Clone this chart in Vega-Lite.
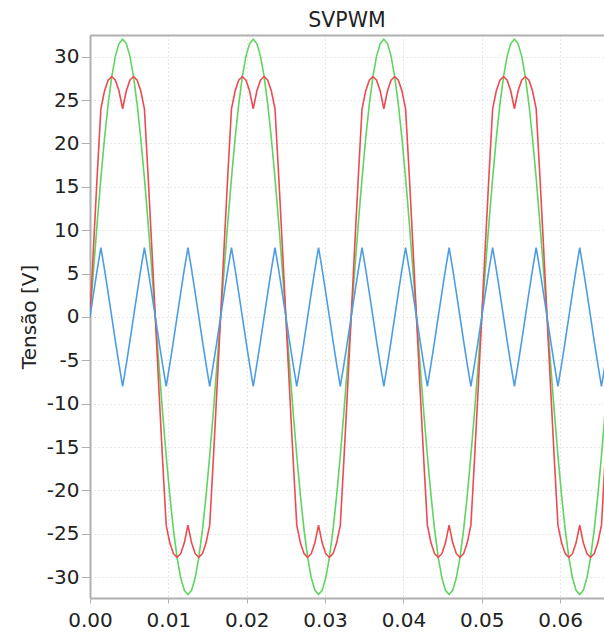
{
  "$schema": "https://vega.github.io/schema/vega-lite/v6.json",
  "width": 514,
  "height": 563,
  "autosize": {"type": "none"},
  "padding": {"left": 90, "top": 35, "right": 0, "bottom": 35},
  "background": "white",
  "title": {"text": "SVPWM", "fontSize": 20.5, "font": "DejaVu Sans", "fontWeight": "normal", "color": "#222222", "anchor": "middle", "offset": 4},
  "config": {"view": {"stroke": null}, "font": "DejaVu Sans"},
  "data": {"values": [
    {"t":0,"g":0,"r":0,"b":0},
    {"t":0.000463,"g":5.557,"r":8.335,"b":2.778},
    {"t":0.000926,"g":10.945,"r":16.417,"b":5.472},
    {"t":0.001389,"g":16,"r":24,"b":8},
    {"t":0.001852,"g":20.569,"r":26.041,"b":5.472},
    {"t":0.002315,"g":24.513,"r":27.291,"b":2.778},
    {"t":0.002778,"g":27.713,"r":27.713,"b":0},
    {"t":0.003241,"g":30.07,"r":27.292,"b":-2.778},
    {"t":0.003704,"g":31.514,"r":26.042,"b":-5.472},
    {"t":0.004167,"g":32,"r":24,"b":-8},
    {"t":0.00463,"g":31.514,"r":26.042,"b":-5.472},
    {"t":0.005093,"g":30.07,"r":27.292,"b":-2.778},
    {"t":0.005556,"g":27.713,"r":27.713,"b":0},
    {"t":0.006019,"g":24.513,"r":27.291,"b":2.778},
    {"t":0.006481,"g":20.569,"r":26.041,"b":5.472},
    {"t":0.006944,"g":16,"r":24,"b":8},
    {"t":0.007407,"g":10.945,"r":16.417,"b":5.472},
    {"t":0.00787,"g":5.557,"r":8.335,"b":2.778},
    {"t":0.008333,"g":0,"r":0,"b":0},
    {"t":0.008796,"g":-5.557,"r":-8.335,"b":-2.778},
    {"t":0.009259,"g":-10.945,"r":-16.417,"b":-5.472},
    {"t":0.009722,"g":-16,"r":-24,"b":-8},
    {"t":0.010185,"g":-20.569,"r":-26.041,"b":-5.472},
    {"t":0.010648,"g":-24.513,"r":-27.291,"b":-2.778},
    {"t":0.011111,"g":-27.713,"r":-27.713,"b":0},
    {"t":0.011574,"g":-30.07,"r":-27.292,"b":2.778},
    {"t":0.012037,"g":-31.514,"r":-26.042,"b":5.472},
    {"t":0.0125,"g":-32,"r":-24,"b":8},
    {"t":0.012963,"g":-31.514,"r":-26.042,"b":5.472},
    {"t":0.013426,"g":-30.07,"r":-27.292,"b":2.778},
    {"t":0.013889,"g":-27.713,"r":-27.713,"b":0},
    {"t":0.014352,"g":-24.513,"r":-27.291,"b":-2.778},
    {"t":0.014815,"g":-20.569,"r":-26.041,"b":-5.472},
    {"t":0.015278,"g":-16,"r":-24,"b":-8},
    {"t":0.015741,"g":-10.945,"r":-16.417,"b":-5.472},
    {"t":0.016204,"g":-5.557,"r":-8.335,"b":-2.778},
    {"t":0.016667,"g":0,"r":0,"b":0},
    {"t":0.01713,"g":5.557,"r":8.335,"b":2.778},
    {"t":0.017593,"g":10.945,"r":16.417,"b":5.472},
    {"t":0.018056,"g":16,"r":24,"b":8},
    {"t":0.018519,"g":20.569,"r":26.041,"b":5.472},
    {"t":0.018981,"g":24.513,"r":27.291,"b":2.778},
    {"t":0.019444,"g":27.713,"r":27.713,"b":0},
    {"t":0.019907,"g":30.07,"r":27.292,"b":-2.778},
    {"t":0.02037,"g":31.514,"r":26.042,"b":-5.472},
    {"t":0.020833,"g":32,"r":24,"b":-8},
    {"t":0.021296,"g":31.514,"r":26.042,"b":-5.472},
    {"t":0.021759,"g":30.07,"r":27.292,"b":-2.778},
    {"t":0.022222,"g":27.713,"r":27.713,"b":0},
    {"t":0.022685,"g":24.513,"r":27.291,"b":2.778},
    {"t":0.023148,"g":20.569,"r":26.041,"b":5.472},
    {"t":0.023611,"g":16,"r":24,"b":8},
    {"t":0.024074,"g":10.945,"r":16.417,"b":5.472},
    {"t":0.024537,"g":5.557,"r":8.335,"b":2.778},
    {"t":0.025,"g":0,"r":0,"b":0},
    {"t":0.025463,"g":-5.557,"r":-8.335,"b":-2.778},
    {"t":0.025926,"g":-10.945,"r":-16.417,"b":-5.472},
    {"t":0.026389,"g":-16,"r":-24,"b":-8},
    {"t":0.026852,"g":-20.569,"r":-26.041,"b":-5.472},
    {"t":0.027315,"g":-24.513,"r":-27.291,"b":-2.778},
    {"t":0.027778,"g":-27.713,"r":-27.713,"b":0},
    {"t":0.028241,"g":-30.07,"r":-27.292,"b":2.778},
    {"t":0.028704,"g":-31.514,"r":-26.042,"b":5.472},
    {"t":0.029167,"g":-32,"r":-24,"b":8},
    {"t":0.02963,"g":-31.514,"r":-26.042,"b":5.472},
    {"t":0.030093,"g":-30.07,"r":-27.292,"b":2.778},
    {"t":0.030556,"g":-27.713,"r":-27.713,"b":0},
    {"t":0.031019,"g":-24.513,"r":-27.291,"b":-2.778},
    {"t":0.031481,"g":-20.569,"r":-26.041,"b":-5.472},
    {"t":0.031944,"g":-16,"r":-24,"b":-8},
    {"t":0.032407,"g":-10.945,"r":-16.417,"b":-5.472},
    {"t":0.03287,"g":-5.557,"r":-8.335,"b":-2.778},
    {"t":0.033333,"g":0,"r":0,"b":0},
    {"t":0.033796,"g":5.557,"r":8.335,"b":2.778},
    {"t":0.034259,"g":10.945,"r":16.417,"b":5.472},
    {"t":0.034722,"g":16,"r":24,"b":8},
    {"t":0.035185,"g":20.569,"r":26.041,"b":5.472},
    {"t":0.035648,"g":24.513,"r":27.291,"b":2.778},
    {"t":0.036111,"g":27.713,"r":27.713,"b":0},
    {"t":0.036574,"g":30.07,"r":27.292,"b":-2.778},
    {"t":0.037037,"g":31.514,"r":26.042,"b":-5.472},
    {"t":0.0375,"g":32,"r":24,"b":-8},
    {"t":0.037963,"g":31.514,"r":26.042,"b":-5.472},
    {"t":0.038426,"g":30.07,"r":27.292,"b":-2.778},
    {"t":0.038889,"g":27.713,"r":27.713,"b":0},
    {"t":0.039352,"g":24.513,"r":27.291,"b":2.778},
    {"t":0.039815,"g":20.569,"r":26.041,"b":5.472},
    {"t":0.040278,"g":16,"r":24,"b":8},
    {"t":0.040741,"g":10.945,"r":16.417,"b":5.472},
    {"t":0.041204,"g":5.557,"r":8.335,"b":2.778},
    {"t":0.041667,"g":0,"r":0,"b":0},
    {"t":0.04213,"g":-5.557,"r":-8.335,"b":-2.778},
    {"t":0.042593,"g":-10.945,"r":-16.417,"b":-5.472},
    {"t":0.043056,"g":-16,"r":-24,"b":-8},
    {"t":0.043519,"g":-20.569,"r":-26.041,"b":-5.472},
    {"t":0.043981,"g":-24.513,"r":-27.291,"b":-2.778},
    {"t":0.044444,"g":-27.713,"r":-27.713,"b":0},
    {"t":0.044907,"g":-30.07,"r":-27.292,"b":2.778},
    {"t":0.04537,"g":-31.514,"r":-26.042,"b":5.472},
    {"t":0.045833,"g":-32,"r":-24,"b":8},
    {"t":0.046296,"g":-31.514,"r":-26.042,"b":5.472},
    {"t":0.046759,"g":-30.07,"r":-27.292,"b":2.778},
    {"t":0.047222,"g":-27.713,"r":-27.713,"b":0},
    {"t":0.047685,"g":-24.513,"r":-27.291,"b":-2.778},
    {"t":0.048148,"g":-20.569,"r":-26.041,"b":-5.472},
    {"t":0.048611,"g":-16,"r":-24,"b":-8},
    {"t":0.049074,"g":-10.945,"r":-16.417,"b":-5.472},
    {"t":0.049537,"g":-5.557,"r":-8.335,"b":-2.778},
    {"t":0.05,"g":0,"r":0,"b":0},
    {"t":0.050463,"g":5.557,"r":8.335,"b":2.778},
    {"t":0.050926,"g":10.945,"r":16.417,"b":5.472},
    {"t":0.051389,"g":16,"r":24,"b":8},
    {"t":0.051852,"g":20.569,"r":26.041,"b":5.472},
    {"t":0.052315,"g":24.513,"r":27.291,"b":2.778},
    {"t":0.052778,"g":27.713,"r":27.713,"b":0},
    {"t":0.053241,"g":30.07,"r":27.292,"b":-2.778},
    {"t":0.053704,"g":31.514,"r":26.042,"b":-5.472},
    {"t":0.054167,"g":32,"r":24,"b":-8},
    {"t":0.05463,"g":31.514,"r":26.042,"b":-5.472},
    {"t":0.055093,"g":30.07,"r":27.292,"b":-2.778},
    {"t":0.055556,"g":27.713,"r":27.713,"b":0},
    {"t":0.056019,"g":24.513,"r":27.291,"b":2.778},
    {"t":0.056481,"g":20.569,"r":26.041,"b":5.472},
    {"t":0.056944,"g":16,"r":24,"b":8},
    {"t":0.057407,"g":10.945,"r":16.417,"b":5.472},
    {"t":0.05787,"g":5.557,"r":8.335,"b":2.778},
    {"t":0.058333,"g":0,"r":0,"b":0},
    {"t":0.058796,"g":-5.557,"r":-8.335,"b":-2.778},
    {"t":0.059259,"g":-10.945,"r":-16.417,"b":-5.472},
    {"t":0.059722,"g":-16,"r":-24,"b":-8},
    {"t":0.060185,"g":-20.569,"r":-26.041,"b":-5.472},
    {"t":0.060648,"g":-24.513,"r":-27.291,"b":-2.778},
    {"t":0.061111,"g":-27.713,"r":-27.713,"b":0},
    {"t":0.061574,"g":-30.07,"r":-27.292,"b":2.778},
    {"t":0.062037,"g":-31.514,"r":-26.042,"b":5.472},
    {"t":0.0625,"g":-32,"r":-24,"b":8},
    {"t":0.062963,"g":-31.514,"r":-26.042,"b":5.472},
    {"t":0.063426,"g":-30.07,"r":-27.292,"b":2.778},
    {"t":0.063889,"g":-27.713,"r":-27.713,"b":0},
    {"t":0.064352,"g":-24.513,"r":-27.291,"b":-2.778},
    {"t":0.064815,"g":-20.569,"r":-26.041,"b":-5.472},
    {"t":0.065278,"g":-16,"r":-24,"b":-8},
    {"t":0.065741,"g":-10.945,"r":-16.417,"b":-5.472}
  ]},
  "transform": [{"fold": ["g", "r", "b"], "as": ["serie", "v"]}],
  "resolve": {"axis": {"x": "independent"}},
  "layer": [
    {
      "mark": {"type": "line", "strokeWidth": 1.6, "clip": true},
      "encoding": {
        "x": {
          "field": "t", "type": "quantitative",
          "scale": {"domain": [0, 0.0656], "nice": false, "zero": false},
          "axis": {
            "orient": "bottom",
            "values": [0, 0.01, 0.02, 0.03, 0.04, 0.05, 0.06],
            "format": ".2f", "title": null,
            "labelFontSize": 20, "labelColor": "#222222", "labelFont": "DejaVu Sans",
            "labelFlush": false, "labelOverlap": false, "labelPadding": 7,
            "domainColor": "#b0b0b0", "domainWidth": 2,
            "tickColor": "#b0b0b0", "tickSize": 5, "tickWidth": 1,
            "grid": true, "gridColor": "#cfcfcf", "gridDash": [1, 3], "gridWidth": 1
          }
        },
        "y": {
          "field": "v", "type": "quantitative",
          "scale": {"domain": [-32.4, 32.5], "nice": false, "zero": false},
          "axis": {
            "values": [-30, -25, -20, -15, -10, -5, 0, 5, 10, 15, 20, 25, 30],
            "labelExpr": "datum.value < 0 ? '-' + abs(datum.value) : '' + datum.value",
            "title": "Tensão [V]",
            "titleFontSize": 20, "titleFontWeight": "normal", "titleColor": "#222222", "titleFont": "DejaVu Sans", "titlePadding": 7,
            "labelFontSize": 20, "labelColor": "#222222", "labelFont": "DejaVu Sans",
            "labelFlush": false, "labelOverlap": false, "labelPadding": 2,
            "domainColor": "#b0b0b0", "domainWidth": 2,
            "tickColor": "#b0b0b0", "tickSize": 9, "tickWidth": 1,
            "grid": true, "gridColor": "#cfcfcf", "gridDash": [1, 3], "gridWidth": 1
          }
        },
        "color": {
          "field": "serie", "type": "nominal",
          "scale": {"domain": ["g", "r", "b"], "range": ["#5fd45f", "#ec4b52", "#4d9de6"]},
          "legend": null
        }
      }
    },
    {
      "mark": {"type": "line", "opacity": 0, "clip": true},
      "encoding": {
        "x": {
          "field": "t", "type": "quantitative",
          "axis": {"orient": "top", "labels": false, "ticks": false, "grid": false, "title": null, "domainColor": "#b0b0b0", "domainWidth": 2}
        },
        "y": {"field": "v", "type": "quantitative"}
      }
    }
  ]
}
